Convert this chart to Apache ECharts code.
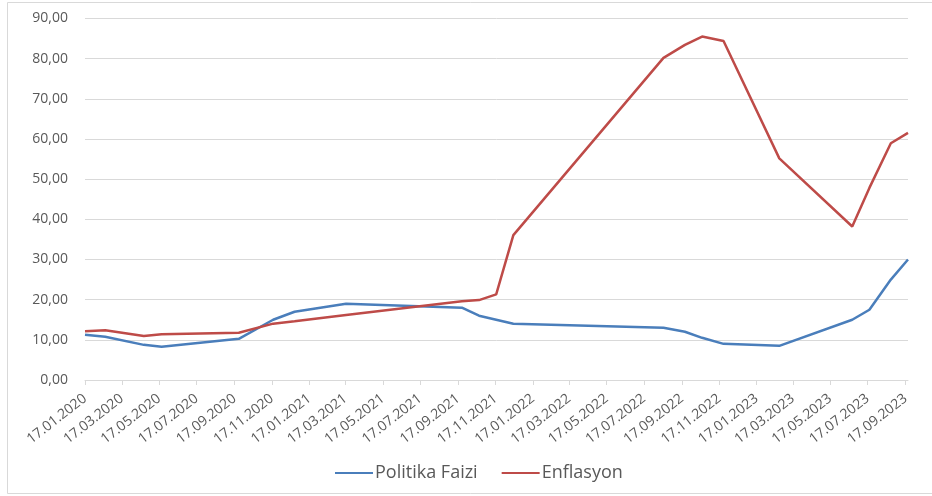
<!DOCTYPE html>
<html>
<head>
<meta charset="utf-8">
<script src="https://cdn.jsdelivr.net/npm/echarts@6/dist/echarts.min.js"></script>
<style>
  html, body { margin: 0; padding: 0; background: #ffffff; }
  #chart { width: 932px; height: 496px; }
</style>
</head>
<body>
<div id="chart"></div>
<script>
// Decision dates of the policy rate; inflation is sampled on the same dates
const dates = [
  '2020-01-17', '2020-02-19', '2020-04-22', '2020-05-21', '2020-09-24',
  '2020-11-19', '2020-12-24', '2021-03-18', '2021-09-23', '2021-10-21',
  '2021-11-18', '2021-12-16', '2022-08-18', '2022-09-22', '2022-10-20',
  '2022-11-24', '2023-02-23', '2023-06-22', '2023-07-20', '2023-08-24',
  '2023-09-21'
];
const politikaFaizi = [
  11.25, 10.75, 8.75, 8.25, 10.25,
  15.00, 17.00, 19.00, 18.00, 16.00,
  15.00, 14.00, 13.00, 12.00, 10.50,
  9.00, 8.50, 15.00, 17.50, 25.00,
  30.00
];
const enflasyon = [
  12.15, 12.37, 10.94, 11.39, 11.75,
  14.03, 14.60, 16.19, 19.58, 19.89,
  21.31, 36.08, 80.21, 83.45, 85.51,
  84.39, 55.18, 38.21, 47.83, 58.94,
  61.53
];
// Axis labels: the 17th of every second month
const tickLabels = [
  '17.01.2020', '17.03.2020', '17.05.2020', '17.07.2020', '17.09.2020', '17.11.2020',
  '17.01.2021', '17.03.2021', '17.05.2021', '17.07.2021', '17.09.2021', '17.11.2021',
  '17.01.2022', '17.03.2022', '17.05.2022', '17.07.2022', '17.09.2022', '17.11.2022',
  '17.01.2023', '17.03.2023', '17.05.2023', '17.07.2023', '17.09.2023'
];
const seriesNames = ['Politika Faizi', 'Enflasyon'];

// Dates are held as whole day numbers (UTC) so the axis is a plain numeric scale
const DAY = 86400000;
function parseDay(s) {
  const p = s.split('-').map(Number);
  return Math.round(Date.UTC(p[0], p[1] - 1, p[2]) / DAY);
}
function parseLabel(s) {
  const p = s.split('.').map(Number);
  return Math.round(Date.UTC(p[2], p[1] - 1, p[0]) / DAY);
}
function pad(n) { return (n < 10 ? '0' : '') + n; }
function fmtDay(v) {
  const d = new Date(Math.round(v) * DAY);
  return pad(d.getUTCDate()) + '.' + pad(d.getUTCMonth() + 1) + '.' + d.getUTCFullYear();
}

const tickValues = tickLabels.map(parseLabel);
const xs = dates.map(parseDay);
const FONT = 'Open Sans';
const GREY = '#595959';

const chart = echarts.init(document.getElementById('chart'), null, { renderer: 'canvas' });
chart.setOption({
  animation: false,
  backgroundColor: '#ffffff',
  textStyle: { fontFamily: FONT },
  grid: { left: 85, right: 24, top: 18.5, bottom: 116, containLabel: false },
  graphic: [{
    type: 'rect',
    shape: { x: 7.5, y: 2.5, width: 940, height: 491 },
    style: { fill: 'none', stroke: '#d9d9d9', lineWidth: 1 },
    silent: true
  }],
  legend: {
    left: 330,
    top: 459,
    itemGap: 24,
    itemWidth: 38,
    itemHeight: 2,
    icon: 'rect',
    textStyle: { fontFamily: FONT, fontSize: 18, color: GREY, padding: [0, 0, 0, -3] },
    data: seriesNames
  },
  xAxis: {
    type: 'value',
    min: tickValues[0],
    max: xs[xs.length - 1],
    splitLine: { show: false },
    axisLine: { show: true, onZero: false, lineStyle: { color: '#d9d9d9', width: 1 } },
    axisTick: { show: true, length: 5, customValues: tickValues, lineStyle: { color: '#d9d9d9' } },
    axisLabel: {
      customValues: tickValues,
      rotate: 38,
      margin: 17,
      fontFamily: FONT,
      fontSize: 14,
      color: GREY,
      formatter: function (v) { return fmtDay(v); }
    }
  },
  yAxis: {
    type: 'value',
    min: 0,
    max: 90,
    interval: 10,
    axisLine: { show: false },
    axisTick: { show: false },
    splitLine: { lineStyle: { color: '#d9d9d9', width: 1 } },
    axisLabel: {
      margin: 17,
      fontFamily: FONT,
      fontSize: 14,
      color: GREY,
      formatter: function (v) { return v.toFixed(2).replace('.', ','); }
    }
  },
  series: [
    {
      name: seriesNames[0],
      type: 'line',
      data: xs.map((x, i) => [x, politikaFaizi[i]]),
      showSymbol: false,
      symbol: 'none',
      lineStyle: { color: '#4a7ebb', width: 2.5 },
      itemStyle: { color: '#4a7ebb' }
    },
    {
      name: seriesNames[1],
      type: 'line',
      data: xs.map((x, i) => [x, enflasyon[i]]),
      showSymbol: false,
      symbol: 'none',
      lineStyle: { color: '#be4b48', width: 2.5 },
      itemStyle: { color: '#be4b48' }
    }
  ]
});
</script>
</body>
</html>
